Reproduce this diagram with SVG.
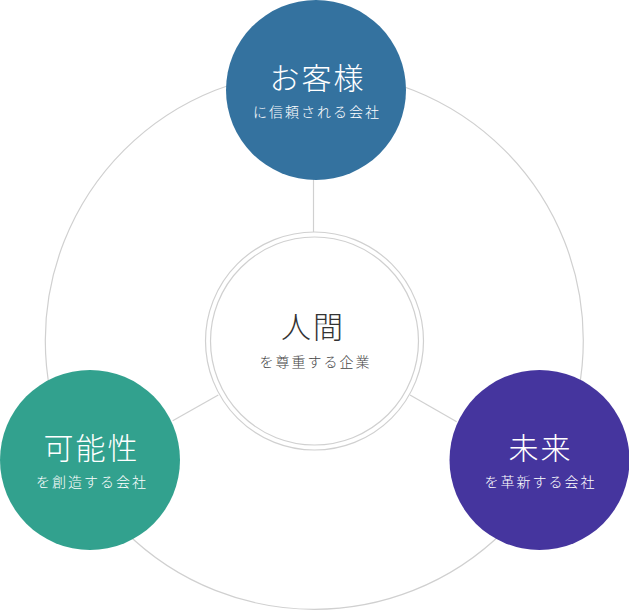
<svg xmlns="http://www.w3.org/2000/svg" width="629" height="611" viewBox="0 0 629 611">
<style>
.ring{fill:none;stroke:#d0d0d0;stroke-width:1.2}
.conn{stroke:#d0d0d0;stroke-width:1.2;fill:none}
.t{font-family:"Noto Sans CJK JP","Noto Sans",sans-serif;text-anchor:middle;font-weight:300}
.title{font-size:30px;letter-spacing:2px}
.sub{font-size:14px;letter-spacing:2px}
.w{fill:#ffffff}
.d{fill:#333333}
.ds{fill:#444444}
</style>
<rect width="629" height="611" fill="#ffffff"/>
<circle class="ring" cx="314.3" cy="340.3" r="269"/>
<g id="connectors">
<line class="conn" x1="313.5" y1="178" x2="313.5" y2="232"/>
<line class="conn" x1="172.7" y1="420.7" x2="218.3" y2="395"/>
<line class="conn" x1="410" y1="395" x2="456.7" y2="421.7"/>
</g>
<g id="center">
<circle cx="314.5" cy="341" r="109" fill="#ffffff" stroke="#d0d0d0" stroke-width="1.2"/>
<circle cx="314.5" cy="341" r="104" fill="none" stroke="#d0d0d0" stroke-width="1.2"/>
<text class="t title d" x="313" y="338">人間</text>
<text class="t sub ds" x="315.5" y="367">を尊重する企業</text>
</g>
<g id="top">
<circle cx="316" cy="90" r="90" fill="#34729f"/>
<text class="t title w" x="317.5" y="89">お客様</text>
<text class="t sub w" x="317" y="117">に信頼される会社</text>
</g>
<g id="left">
<circle cx="90" cy="460" r="90" fill="#32a18e"/>
<text class="t title w" x="91.5" y="459">可能性</text>
<text class="t sub w" x="92" y="487">を創造する会社</text>
</g>
<g id="right">
<circle cx="539.5" cy="460" r="90" fill="#45359e"/>
<text class="t title w" x="540.5" y="459">未来</text>
<text class="t sub w" x="540.5" y="487">を革新する会社</text>
</g>
</svg>
